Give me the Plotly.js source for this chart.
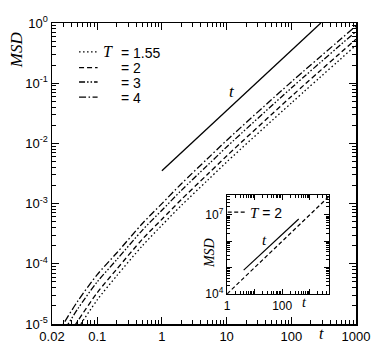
<!DOCTYPE html>
<html>
<head>
<meta charset="utf-8">
<script src="https://cdn.plot.ly/plotly-3.0.1.min.js"></script>
<style>
  body { margin: 0; background: #fff; }
  #plotly-div { width: 382px; height: 356px; }
</style>
</head>
<body>
<div id="plotly-div"></div>
<script>
// time values shared by the four main curves
var times = [0.025, 0.03, 0.05, 0.1, 0.2, 0.5, 1, 2, 5, 10, 100, 1000];

// MSD, one array per temperature
var msdT155 = [2.40e-6, 3.39e-6, 8.32e-6, 2.51e-5, 6.31e-5, 2.00e-4, 4.37e-4, 9.33e-4, 2.40e-3, 4.90e-3, 4.68e-2, 0.427];
var msdT2   = [3.31e-6, 4.68e-6, 1.12e-5, 3.31e-5, 8.13e-5, 2.57e-4, 5.50e-4, 1.17e-3, 3.02e-3, 6.17e-3, 6.03e-2, 0.537];
var msdT3   = [5.25e-6, 7.41e-6, 1.78e-5, 5.01e-5, 1.17e-4, 3.63e-4, 7.76e-4, 1.66e-3, 4.27e-3, 8.71e-3, 8.32e-2, 0.724];
var msdT4   = [7.08e-6, 1.00e-5, 2.40e-5, 6.61e-5, 1.51e-4, 4.68e-4, 1.00e-3, 2.14e-3, 5.50e-3, 1.12e-2, 0.105, 0.891];

var tempLabels = ['1.55', '2', '3', '4'];
var tempDashes = ['1.5px,2.5px', '5px,3px', '6px,2px,1.5px,2px,1.5px,2px', '7px,2.5px,1.5px,2.5px'];

// guide line ~ t in the main panel
var guideT   = [1, 286];
var guideMSD = [0.0035, 1.0];

// inset: T = 2 at long times, and its guide line ~ t
var insetT   = [1, 5000];
var insetMSD = [1e4, 5e7];
var insetGuideT   = [4, 400];
var insetGuideMSD = [8e4, 7e6];

// tick labels
var xTickVals = [0.02, 0.1, 1, 10, 100, 1000];
var xTickText = ['0.02', '0.1', '1', '10', '100', '1000'];
var yTickVals = [1e-5, 1e-4, 1e-3, 1e-2, 1e-1, 1];
var yTickText = ['10<sup>-5</sup>', '10<sup>-4</sup>', '10<sup>-3</sup>', '10<sup>-2</sup>', '10<sup>-1</sup>', '10<sup>0</sup>'];
var ixTickVals = [1, 10, 100, 1000];
var ixTickText = ['1', '', '100', ''];
var iyTickVals = [1e4, 1e5, 1e6, 1e7];
var iyTickText = ['10<sup>4</sup>', '', '', '10<sup>7</sup>'];

var sans = 'Liberation Sans, Arial, sans-serif';
var serif = 'Liberation Serif, Times New Roman, serif';
var tItal = "<span style='font-family:Liberation Serif;font-size:15px'><i>T</i></span>";

// minor ticks 2..9 in every decade
function minorTicks (lo, hi) {
  var out = [];
  for (var e = lo; e < hi; e++) {
    for (var m = 2; m <= 9; m++) {
      out.push(m*Math.pow(10, e));
    }
  }
  return out;
}

function curve (y, dash) {
  return {
    x: times, y: y,
    mode: 'lines', showlegend: false,
    line: {color: '#000', width: 1.3, dash: dash, shape: 'spline', smoothing: 0.8},
    xaxis: 'x', yaxis: 'y'
  };
}

var data = [
  curve(msdT155, tempDashes[0]),
  curve(msdT2,   tempDashes[1]),
  curve(msdT3,   tempDashes[2]),
  curve(msdT4,   tempDashes[3]),
  {
    x: guideT, y: guideMSD, mode: 'lines', showlegend: false,
    line: {color: '#000', width: 1.3}, xaxis: 'x', yaxis: 'y'
  },
  {
    x: insetT, y: insetMSD, mode: 'lines', showlegend: false,
    line: {color: '#000', width: 1.2, dash: '4px,2.5px'},
    xaxis: 'x2', yaxis: 'y2'
  },
  {
    x: insetGuideT, y: insetGuideMSD, mode: 'lines', showlegend: false,
    line: {color: '#000', width: 1.2}, xaxis: 'x2', yaxis: 'y2'
  }
];

function note (text, x, y, font, xanchor, angle) {
  return {
    text: text, xref: 'paper', yref: 'paper', x: x, y: y,
    xanchor: xanchor || 'center', yanchor: 'middle',
    showarrow: false, textangle: angle || 0, font: font
  };
}

// hand-made legends (samples + labels), in paper units
var legendRows = [0.904, 0.852, 0.804, 0.754];
var shapes = [];
var annotations = [];
for (var i = 0; i < tempLabels.length; i++) {
  shapes.push({
    type: 'line', xref: 'paper', yref: 'paper',
    x0: 0.089, x1: 0.150, y0: legendRows[i], y1: legendRows[i],
    line: {color: '#000', width: 1.3, dash: tempDashes[i]}
  });
  annotations.push(note('= ' + tempLabels[i], 0.222, legendRows[i] - 0.003, {family: sans, size: 14}, 'left'));
}
annotations.push(note('<i>T</i>', 0.183, legendRows[0], {family: serif, size: 16}));

// inset legend
shapes.push({
  type: 'line', xref: 'paper', yref: 'paper',
  x0: 0.578, x1: 0.636, y0: 0.372, y1: 0.372,
  line: {color: '#000', width: 1.2, dash: '4px,2.5px'}
});
annotations.push(note(tItal + ' = 2', 0.645, 0.370, {family: sans, size: 14}, 'left'));

// axis titles and guide-line labels
annotations.push(note('<i>MSD</i>', -0.118, 0.91, {family: serif, size: 17}, 'center', -90));
annotations.push(note('<i>t</i>', 0.885, -0.03, {family: serif, size: 16}));
annotations.push(note('<i>t</i>', 0.592, 0.771, {family: serif, size: 17}));
annotations.push(note('<i>MSD</i>', 0.52, 0.236, {family: serif, size: 14}, 'center', -90));
annotations.push(note('<i>t</i>', 0.70, 0.279, {family: serif, size: 15}));
annotations.push(note('<i>t</i>', 0.829, 0.073, {family: serif, size: 14}));

var axisBase = {
  type: 'log',
  showgrid: false, zeroline: false,
  showline: true, linecolor: '#000', linewidth: 1.5, mirror: 'allticks',
  ticks: 'inside', ticklen: 7, tickwidth: 1, tickcolor: '#000',
  tickmode: 'array'
};

var layout = {
  width: 382, height: 356,
  margin: {l: 52, r: 26, t: 23, b: 32},
  paper_bgcolor: '#fff', plot_bgcolor: '#fff',
  font: {family: sans, size: 13, color: '#000'},
  showlegend: false,
  xaxis: Object.assign({}, axisBase, {
    range: [Math.log10(0.02), 3],
    tickvals: xTickVals, ticktext: xTickText,
    tickfont: {size: 13},
    minor: {tickmode: 'array', tickvals: minorTicks(-2, 3), ticks: 'inside', ticklen: 4, tickcolor: '#000', showgrid: false}
  }),
  yaxis: Object.assign({}, axisBase, {
    range: [-5, 0],
    tickvals: yTickVals, ticktext: yTickText,
    tickfont: {size: 13},
    minor: {tickmode: 'array', tickvals: minorTicks(-5, 0), ticks: 'inside', ticklen: 4, tickcolor: '#000', showgrid: false}
  }),
  xaxis2: Object.assign({}, axisBase, {
    domain: [0.576, 0.911], anchor: 'y2',
    range: [0, 3.7], linewidth: 1.3, ticklen: 5,
    tickvals: ixTickVals, ticktext: ixTickText,
    tickfont: {size: 12},
    minor: {tickmode: 'array', tickvals: minorTicks(0, 4), ticks: 'inside', ticklen: 3, tickcolor: '#000', showgrid: false}
  }),
  yaxis2: Object.assign({}, axisBase, {
    domain: [0.10, 0.429], anchor: 'x2',
    range: [4, 7.76], linewidth: 1.3, ticklen: 5,
    tickvals: iyTickVals, ticktext: iyTickText,
    tickfont: {size: 12},
    minor: {tickmode: 'array', tickvals: minorTicks(4, 8), ticks: 'inside', ticklen: 3, tickcolor: '#000', showgrid: false}
  }),
  shapes: shapes,
  annotations: annotations
};

Plotly.newPlot('plotly-div', data, layout, {displayModeBar: false, staticPlot: true});
</script>
</body>
</html>
